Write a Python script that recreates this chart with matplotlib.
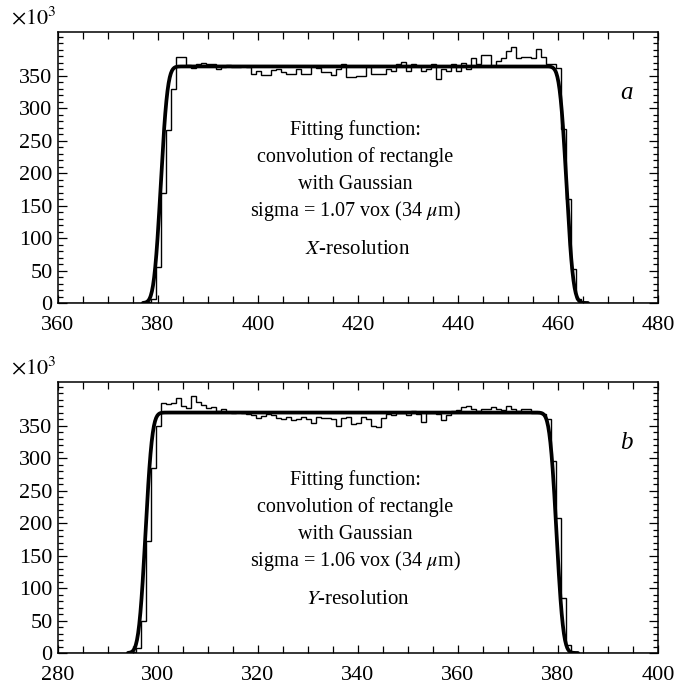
import math
import numpy as np
import matplotlib
matplotlib.use("Agg")
import matplotlib.pyplot as plt
from matplotlib.ticker import MultipleLocator

plt.rcParams['font.family'] = ['Liberation Serif', 'DejaVu Serif']
plt.rcParams['mathtext.fontset'] = 'stix'

# ---------------- data (counts in units of 10^3) ----------------
# Panel a: X-resolution, bins of width 1 vox centred on integers
top_centers = list(range(378, 465))
top_counts = [1, 6, 55, 170, 266, 329, 378, 378, 366, 361,
              368, 369, 367, 367, 360, 363, 366, 363, 363, 364,
              363, 352, 357, 351, 351, 359, 360, 355, 352, 353,
              360, 352, 352, 365, 362, 355, 356, 351, 360, 367,
              347, 347, 349, 349, 364, 353, 353, 353, 360, 357,
              368, 371, 357, 368, 364, 357, 360, 368, 345, 360,
              357, 368, 357, 370, 360, 377, 368, 382, 382, 365,
              372, 377, 387, 394, 377, 379, 378, 377, 391, 379,
              368, 368, 362, 267, 160, 52, 6]
top_fit = dict(A=364.0, L=380.55, R=461.7, sigma=1.07, xmin=377.0, xmax=466.0)
top_xlim = (360, 480)
top_xticks = [360, 380, 400, 420, 440, 460, 480]

# Panel b: Y-resolution
bot_centers = list(range(295, 383))
bot_counts = [1, 8, 49, 172, 285, 349, 385, 383, 384, 392,
              380, 377, 395, 386, 382, 377, 378, 373, 375, 371,
              370, 371, 369, 368, 366, 362, 365, 368, 366, 361,
              360, 363, 358, 360, 363, 360, 354, 363, 362, 362,
              360, 350, 361, 363, 352, 354, 363, 360, 350, 348,
              362, 368, 366, 370, 369, 366, 373, 367, 356, 370,
              369, 368, 359, 366, 373, 374, 378, 380, 375, 373,
              376, 375, 378, 375, 374, 380, 375, 373, 376, 375,
              370, 370, 368, 360, 296, 208, 85, 13]
bot_fit = dict(A=370.0, L=297.5, R=379.7, sigma=1.06, xmin=294.0, xmax=384.0)
bot_xlim = (280, 400)
bot_xticks = [280, 300, 320, 340, 360, 380, 400]

yticks = [0, 50, 100, 150, 200, 250, 300, 350]
ymax = 417

text_lines_a = ["Fitting function:", "convolution of rectangle", "with Gaussian",
                r"sigma = 1.07 vox (34 $\mu$m)"]
text_lines_b = ["Fitting function:", "convolution of rectangle", "with Gaussian",
                r"sigma = 1.06 vox (34 $\mu$m)"]
res_a = r"$X$-resolution"
res_b = r"$Y$-resolution"


def fit_curve(x, A, L, R, sigma):
    s = sigma * math.sqrt(2.0)
    return np.array([A * 0.5 * (math.erf((xi - L) / s) - math.erf((xi - R) / s)) for xi in x])


fig = plt.figure(figsize=(6.82, 6.89), dpi=100)
ax_a = fig.add_axes([58 / 682, (689 - 303) / 689, 600 / 682, 271 / 689])
ax_b = fig.add_axes([58 / 682, (689 - 653) / 689, 600 / 682, 271 / 689])


def draw(ax, centers, counts, fit, xlim, xticks, lines, res, tag):
    full_c = np.arange(xlim[0], xlim[1] + 1)
    vals = np.zeros(len(full_c))
    for c, v in zip(centers, counts):
        vals[c - xlim[0]] = v
    edges = np.append(full_c - 0.5, full_c[-1] + 0.5)
    ax.stairs(vals, edges, color='black', linewidth=1.0)
    xf = np.linspace(fit['xmin'], fit['xmax'], 800)
    ax.plot(xf, fit_curve(xf, fit['A'], fit['L'], fit['R'], fit['sigma']),
            color='black', linewidth=2.7, solid_capstyle='round')
    ax.set_xlim(*xlim)
    ax.set_ylim(0, ymax)
    ax.set_xticks(xticks)
    ax.set_yticks(yticks)
    ax.xaxis.set_minor_locator(MultipleLocator(5))
    ax.yaxis.set_minor_locator(MultipleLocator(10))
    ax.tick_params(which='both', direction='in', top=True, right=True,
                   labelsize=16, width=0.9)
    ax.tick_params(axis='x', which='major', length=5.5, pad=9)
    ax.tick_params(axis='x', which='minor', length=5.0)
    ax.tick_params(axis='y', which='major', length=6.5, pad=4)
    ax.tick_params(axis='y', which='minor', length=3.5)
    for sp in ax.spines.values():
        sp.set_linewidth(1.1)
    ys = [0.638, 0.539, 0.439, 0.339]
    for t, y in zip(lines, ys):
        ax.text(0.495, y, t, transform=ax.transAxes, ha='center', va='center', fontsize=14.5)
    ax.text(0.5, 0.196, res, transform=ax.transAxes, ha='center', va='center', fontsize=15)
    ax.text(0.948, 0.775, tag, transform=ax.transAxes, ha='center', va='center',
            fontsize=18, style='italic')
    ax.text(-0.078, 1.052, r"$\times10^{3}$", transform=ax.transAxes, ha='left',
            va='center', fontsize=16)


draw(ax_a, top_centers, top_counts, top_fit, top_xlim, top_xticks, text_lines_a, res_a, 'a')
draw(ax_b, bot_centers, bot_counts, bot_fit, bot_xlim, bot_xticks, text_lines_b, res_b, 'b')

fig.savefig("out.png", dpi=100)
